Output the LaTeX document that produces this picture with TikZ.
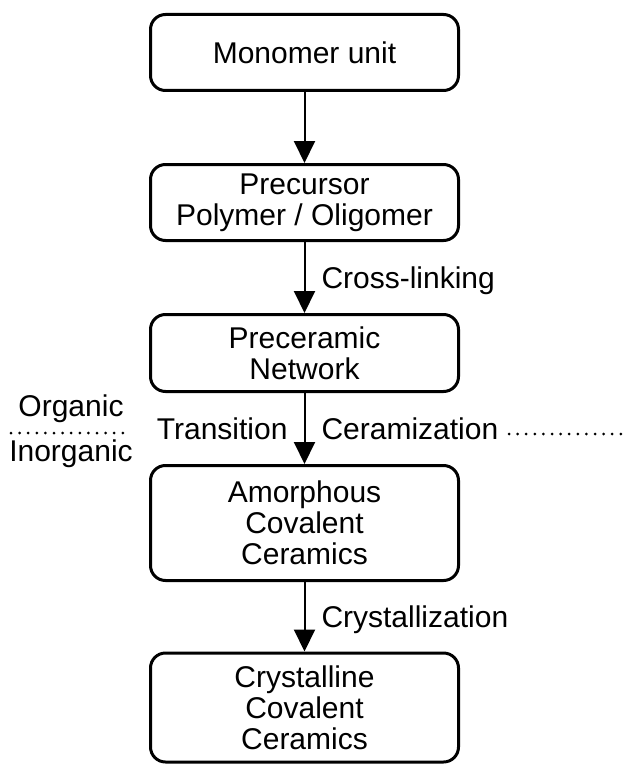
\documentclass[tikz,border=0pt]{standalone}
\usepackage{fontspec}
\setmainfont{Liberation Sans}
\usetikzlibrary{arrows.meta}
\tikzset{
	stage/.style={draw,line width=3pt,rounded corners=15pt,minimum width=308pt,align=center,inner sep=0pt,font=\fontsize{30}{31}\selectfont},
	flow/.style={line width=2pt,-{Triangle[width=21pt,length=22pt]}},
	tag/.style={font=\fontsize{30}{31}\selectfont,inner sep=0pt,text height=21pt,text depth=0pt},
	divide/.style={line width=3pt,dash pattern=on 0pt off 8.6pt,line cap=round}
}
\begin{document}
\begin{tikzpicture}[x=1pt,y=-1pt]
		\useasboundingbox (0,0) rectangle (625,765);
		\node[stage,minimum height=76pt] (monomer) at (304.5,52.5) {Monomer unit};
		\node[stage,minimum height=76pt] (precursor) at (304.5,202.5) {Precursor\\Polymer / Oligomer};
		\node[stage,minimum height=77pt] (network) at (304.5,353) {Preceramic\\Network};
		\node[stage,minimum height=115pt] (amorphous) at (304.5,523) {Amorphous\\Covalent\\Ceramics};
		\node[stage,minimum height=109pt] (crystalline) at (304.5,707.5) {Crystalline\\Covalent\\Ceramics};
		\draw[flow] (monomer) -- (precursor);
		\draw[flow] (precursor) -- (network) node[midway,anchor=west,xshift=16pt,tag] {Cross-linking};
		\draw[flow] (network) -- (amorphous) node[midway,anchor=west,xshift=16pt,tag] (ceram) {Ceramization}
			node[midway,anchor=east,xshift=-16pt,tag] {Transition};
		\draw[flow] (amorphous) -- (crystalline) node[midway,anchor=west,xshift=16pt,tag] {Crystallization};
		\node[tag,anchor=base] (organic) at (71,416) {Organic};
		\node[tag,anchor=base] (inorganic) at (71,461) {Inorganic};
		\coordinate (leftA) at (11,433);
		\coordinate (leftB) at (130,433);
		\coordinate (rightA) at (509,434);
		\coordinate (rightB) at (624,434);
		\draw[divide] (leftA) -- (leftB);
		\draw[divide] (rightA) -- (rightB);
	\end{tikzpicture}
\end{document}
